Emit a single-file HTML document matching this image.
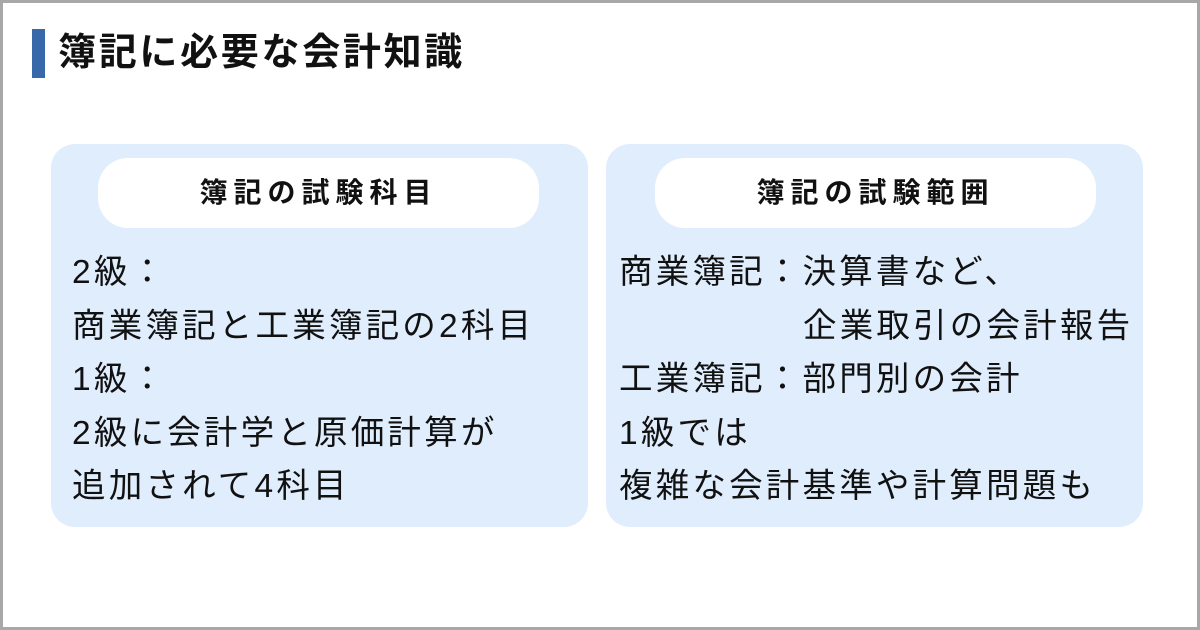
<!DOCTYPE html>
<html><head><meta charset="utf-8"><style>
*{margin:0;padding:0;box-sizing:border-box}
body{width:1200px;height:630px;overflow:hidden;background:#fff;font-family:"Liberation Sans","Noto Sans CJK JP",sans-serif;color:#111}
.frame{position:absolute;left:0;top:0;width:1200px;height:630px;border:3px solid #a8a8a8}
.bar{position:absolute;left:32px;top:29px;width:13px;height:49px;background:#3668aa}
.title{position:absolute;left:58px;top:26px;font-size:38px;font-weight:bold;letter-spacing:2.7px;line-height:54px;white-space:nowrap}
.panel{position:absolute;top:144px;width:537px;height:383px;background:#e0edfc;border-radius:24px}
.pill{position:absolute;top:14px;height:70px;background:#fff;border-radius:30px;font-size:28px;font-weight:bold;letter-spacing:6px;text-align:center;line-height:70px}
.body{position:absolute;left:21px;top:102px;font-size:33.5px;letter-spacing:3.2px;line-height:53.5px;white-space:nowrap}
.body.r{left:13px}
</style></head><body>
<div class="frame"></div>
<div class="bar"></div>
<div class="title">簿記に必要な会計知識</div>
<div class="panel" style="left:51px">
<div class="pill" style="left:47px;width:441px">簿記の試験科目</div>
<div class="body">2級：<br>商業簿記と工業簿記の2科目<br>1級：<br>2級に会計学と原価計算が<br>追加されて4科目</div>
</div>
<div class="panel" style="left:606px">
<div class="pill" style="left:49px;width:441px">簿記の試験範囲</div>
<div class="body r">商業簿記：決算書など、<br><span style="padding-left:184px">企業取引の会計報告</span><br>工業簿記：部門別の会計<br>1級では<br>複雑な会計基準や計算問題も</div>
</div>
</body></html>
